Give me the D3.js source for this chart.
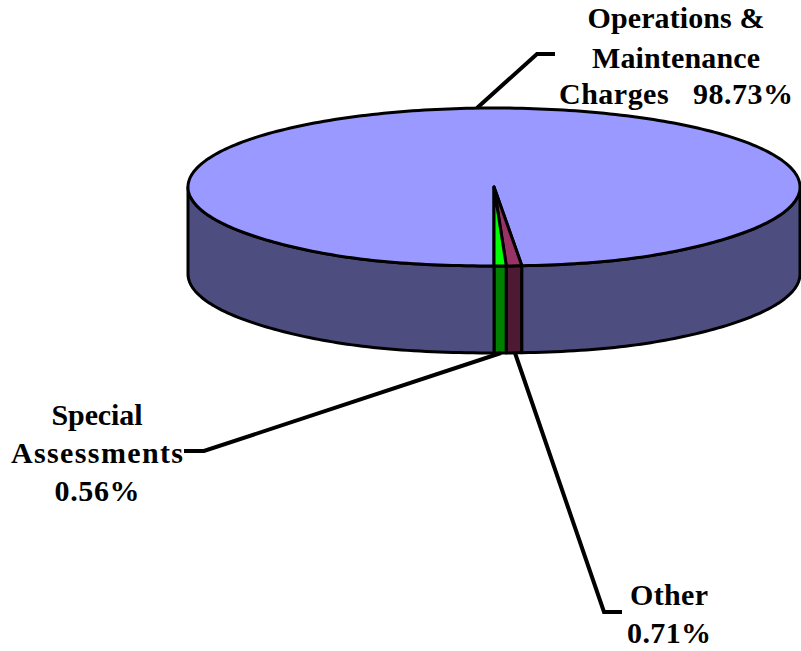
<!DOCTYPE html>
<html>
<head>
  <meta charset="utf-8">
  <script src="https://d3js.org/d3.v7.min.js"></script>
  <style>
  html, body { margin: 0; padding: 0; background: #fff; }
  svg { display: block; }
  text { font-family: "Liberation Serif", serif; font-weight: bold; font-size: 30px; fill: #000; text-anchor: middle; }
  </style>
</head>
<body>
<script>
var categories = ['Special Assessments', 'Other', 'Operations & Maintenance Charges'];
var values = [0.56, 0.71, 98.73];
var topColours = ['#00ff00', '#993366', '#9999ff'];
var sideColours = ['#008000', '#4d1933', '#4d4d80'];

var width = 801, height = 651,
    cx = 494, cy = 187,
    rx = 306, ry = 79,
    depth = 87;

var svg = d3.select('body').append('svg')
  .attr('width', width)
  .attr('height', height);

// pie runs from the front of the disc, going round to the right
var slices = d3.pie().sort(null).startAngle(Math.PI).endAngle(-Math.PI)(values);

// the old chart stretches the disc a little right at the front
function project(a) {
  var c = Math.max(0, -Math.cos(a));
  return [cx + rx * Math.sin(a) * (1 + 0.147 * Math.pow(c, 10)), cy - ry * Math.cos(a)];
}

function rim(a0, a1) {
  var n = Math.max(1, Math.ceil(Math.abs(a1 - a0) / 0.02)), pts = [];
  for (var i = 0; i <= n; i++) pts.push(project(a0 + (a1 - a0) * i / n));
  return pts;
}

var line = d3.line();

// walls, only the front half shows
var front = [];
slices.forEach(function(s, i) {
  [[Math.PI / 2, Math.PI], [-Math.PI, -Math.PI / 2]].forEach(function(r) {
    var a0 = Math.min(s.startAngle, r[1]), a1 = Math.max(s.endAngle, r[0]);
    if (a0 > a1) front.push({a0: a0, a1: a1, i: i});
  });
});

svg.selectAll('path.wall')
  .data(front)
  .enter().append('path')
    .attr('class', 'wall')
    .attr('fill', function(d) { return sideColours[d.i]; })
    .attr('stroke', '#000')
    .attr('stroke-width', 3)
    .attr('stroke-linejoin', 'round')
    .attr('d', function(d) {
      var upper = rim(d.a0, d.a1);
      var lower = upper.map(function(p) { return [p[0], p[1] + depth]; }).reverse();
      return line(upper.concat(lower)) + 'Z';
    });

// top of the disc, big slice first so the thin ones sit on it
svg.selectAll('path.top')
  .data(slices.slice().reverse())
  .enter().append('path')
    .attr('class', 'top')
    .attr('fill', function(d) { return topColours[d.index]; })
    .attr('stroke', '#000')
    .attr('stroke-width', 3)
    .attr('stroke-linejoin', 'round')
    .attr('d', function(d) {
      return line([[cx, cy]].concat(rim(d.startAngle, d.endAngle))) + 'Z';
    });

// leader lines
var leaders = [
  [[477, 108], [537, 54], [555, 54]],
  [[501, 353], [204, 451], [184, 451]],
  [[515, 353], [604, 612], [622, 612]]
];
svg.selectAll('path.leader')
  .data(leaders)
  .enter().append('path')
    .attr('class', 'leader')
    .attr('fill', 'none')
    .attr('stroke', '#000')
    .attr('stroke-width', 4)
    .attr('d', line);

// labels, stretched to the widths of the bitmap text in the original
var labels = [
  {x: 97, lines: [['Special', 425, 91], ['Assessments', 463, 172], [values[0] + '%', 501, 85]]},
  {x: 669, lines: [['Other', 605, 78], [values[1].toFixed(2) + '%', 643, 84]]},
  {x: 676, lines: [['Operations &', 28, 177], ['Maintenance', 68, 168], ['Charges\u00a0\u00a0\u00a0' + values[2] + '%', 104, 234]]}
];
labels.forEach(function(l) {
  l.lines.forEach(function(t) {
    svg.append('text')
      .attr('x', l.x)
      .attr('y', t[1])
      .attr('textLength', t[2])
      .attr('lengthAdjust', 'spacing')
      .text(t[0]);
  });
});
</script>
</body>
</html>
